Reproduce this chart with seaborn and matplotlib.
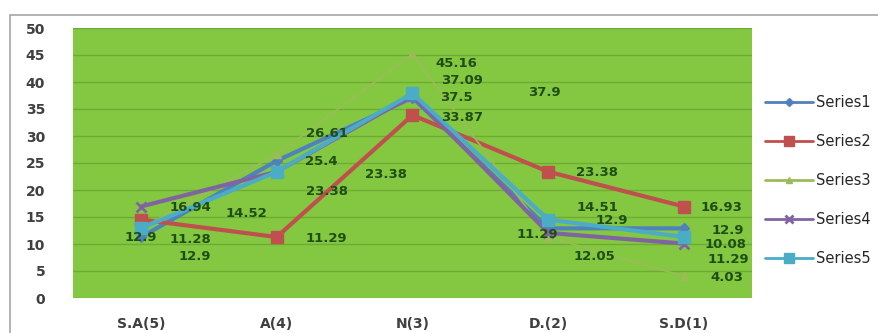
import pandas as pd
import seaborn as sns
import matplotlib.pyplot as plt
from matplotlib.lines import Line2D
from matplotlib.patches import Rectangle

# data
categories = ['S.A(5)', 'A(4)', 'N(3)', 'D.(2)', 'S.D(1)']
series_names = ['Series1', 'Series2', 'Series3', 'Series4', 'Series5']
series1 = [11.28, 25.4, 37.09, 12.9, 12.9]
series2 = [14.52, 11.29, 33.87, 23.38, 16.93]
series3 = [12.9, 26.61, 45.16, 11.29, 4.03]
series4 = [16.94, 23.38, 37.5, 12.05, 10.08]
series5 = [12.9, 23.38, 37.9, 14.51, 11.29]
all_series = [series1, series2, series3, series4, series5]

# style per series (Excel 2007 defaults)
colors = ['#4F81BD', '#C0504D', '#9BBB59', '#8064A2', '#4BACC6']
markers = ['D', 's', '^', 'x', 's']
msizes = [5, 9, 6, 7, 9]
lwidths = [3, 3, 1.2, 3, 3]

# label offsets (pixels) from each point, to mimic the messy placement
label_offsets = [
    [(50, -2), (45, -1), (50, 17), (64, 8), (44, -2)],
    [(106, 6), (50, -1), (50, -2), (49, -1), (37, -1)],
    [(0, -9), (50, 21), (44, -9), (-11, 3), (43, -1)],
    [(50, -1), (50, -20), (44, -2), (46, -24), (41, -1)],
    [(54, -28), (109, -3), (132, 1), (49, 12), (44, -22)],
]

df = pd.DataFrame({'cat': categories * 5,
                   'x': list(range(5)) * 5,
                   'series': [s for s in series_names for _ in categories],
                   'value': [v for s in all_series for v in s]})

sns.set_style('white')
plt.rcParams['font.family'] = ['DejaVu Sans']

fig = plt.figure(figsize=(8.79, 3.33), dpi=100)
ax = fig.add_axes([73 / 879, 35 / 333, (752 - 73) / 879, (298 - 28) / 333])
ax.set_facecolor('#84C841')

for i, name in enumerate(series_names):
    sub = df[df['series'] == name]
    sns.lineplot(data=sub, x='x', y='value', ax=ax, color=colors[i],
                 marker=markers[i], markersize=msizes[i], linewidth=lwidths[i],
                 markeredgecolor=colors[i], markeredgewidth=2 if markers[i] == 'x' else 1,
                 legend=False, zorder=3 + i)
    for j, v in enumerate(all_series[i]):
        ax.annotate(f'{v:g}', (j, v), xytext=label_offsets[i][j],
                    textcoords='offset pixels', ha='center', va='center',
                    fontsize=9.5, fontweight='bold', color='#1F4D14', zorder=20)

ax.set_xlim(-0.5, 4.5)
ax.set_ylim(0, 50)
ax.set_yticks(range(0, 55, 5))
ax.set_xticks(range(5))
ax.set_xticklabels(categories)
ax.yaxis.grid(True, color='#6EAA34', linewidth=1)
ax.set_axisbelow(True)
ax.set_xlabel('')
ax.set_ylabel('')
for sp in ax.spines.values():
    sp.set_visible(False)
ax.tick_params(axis='both', length=0, labelsize=10, labelcolor='#404040')
ax.tick_params(axis='x', pad=14)
ax.tick_params(axis='y', pad=20)
for t in ax.get_xticklabels() + ax.get_yticklabels():
    t.set_fontweight('bold')

# outer chart border
fig.patches.append(Rectangle((10 / 879, -0.1), 1.2, (333 - 15) / 333 + 0.1,
                             transform=fig.transFigure, fill=False,
                             edgecolor='#A6A6A6', linewidth=1.2))

handles = [Line2D([], [], color=colors[i], marker=markers[i], markersize=msizes[i] * 0.8,
                  linewidth=2, markeredgewidth=2 if markers[i] == 'x' else 1)
           for i in range(5)]
fig.legend(handles, series_names, loc='upper left', bbox_to_anchor=(765 / 879, 1 - 95 / 333),
           frameon=False, fontsize=10.5, handlelength=3.3, handletextpad=0.2,
           labelspacing=1.65, borderaxespad=0, borderpad=0)

fig.savefig('out.png', dpi=100)
